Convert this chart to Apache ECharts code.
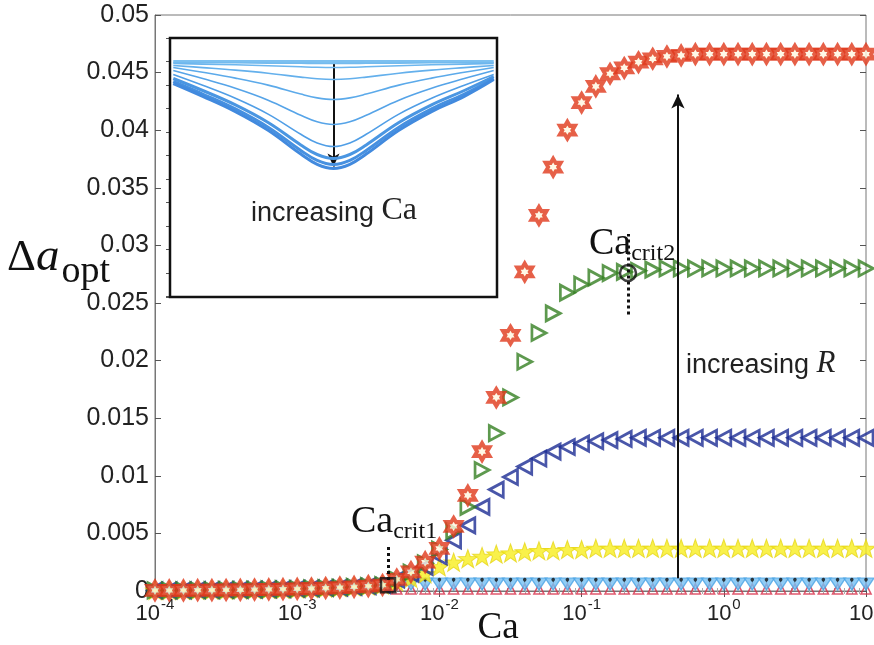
<!DOCTYPE html>
<html><head><meta charset="utf-8">
<script src="https://cdn.jsdelivr.net/npm/echarts@6/dist/echarts.min.js"></script>
<style>html,body{margin:0;padding:0;background:#fff}#c{width:874px;height:645px}</style>
</head><body><div id="c"></div>
<script>
// Capillary number grid (10 points per decade)
const ca = [1e-4,1.259e-4,1.585e-4,1.995e-4,2.512e-4,3.162e-4,3.981e-4,5.012e-4,6.31e-4,7.943e-4,
  1e-3,1.259e-3,1.585e-3,1.995e-3,2.512e-3,3.162e-3,3.981e-3,5.012e-3,6.31e-3,7.943e-3,
  1e-2,1.259e-2,1.585e-2,1.995e-2,2.512e-2,3.162e-2,3.981e-2,5.012e-2,6.31e-2,7.943e-2,
  0.1,0.1259,0.1585,0.1995,0.2512,0.3162,0.3981,0.5012,0.631,0.7943,
  1,1.259,1.585,1.995,2.512,3.162,3.981,5.012,6.31,7.943,10];

const redHex = [0.00005,0.00005,0.00006,0.00007,0.00008,0.00009,0.0001,0.00012,0.00014,0.00016,0.00019,0.00022,0.00026,0.0003,0.00036,0.00043,0.00052,
  0.001,0.00165,0.0025,0.0037,0.0056,0.0083,0.0121,0.0168,0.0222,0.0277,0.0326,0.0368,0.0400,0.0424,0.0438,0.0449,0.0454,0.0459,0.0462,0.0464,0.0465,
  0.0466,0.0466,0.0466,0.0466,0.0466,0.0466,0.0466,0.0466,0.0466,0.0466,0.0466,0.0466,0.0466];
const greenTri = [0.00005,0.00005,0.00006,0.00007,0.00008,0.00009,0.0001,0.00012,0.00014,0.00016,0.00019,0.00022,0.00026,0.0003,0.00036,0.00043,0.00052,
  0.001,0.0016,0.0024,0.0036,0.0052,0.0073,0.0105,0.0137,0.0168,0.0199,0.0224,0.0241,0.0259,0.0266,0.0272,0.0276,0.0277,0.0278,0.0279,
  0.028,0.028,0.028,0.028,0.028,0.028,0.028,0.028,0.028,0.028,0.028,0.028,0.028,0.028,0.028];
const blueTri = [0.00005,0.00005,0.00006,0.00007,0.00008,0.00009,0.0001,0.00012,0.00014,0.00016,0.00019,0.00022,0.00026,0.0003,0.00036,0.00043,0.00052,
  0.001,0.0015,0.0021,0.003,0.0044,0.0057,0.0073,0.0088,0.0099,0.0108,0.0115,0.0121,0.0125,0.0128,0.013,0.0131,0.0132,
  0.0133,0.0133,0.0133,0.0133,0.0133,0.0133,0.0133,0.0133,0.0133,0.0133,0.0133,0.0133,0.0133,0.0133,0.0133,0.0133,0.0133];
const yellowStar = [0.00005,0.00005,0.00006,0.00007,0.00008,0.00009,0.0001,0.00012,0.00014,0.00016,0.00019,0.00022,0.00026,0.0003,0.00036,0.00043,0.00052,
  0.0008,0.0011,0.0015,0.0021,0.0025,0.0028,0.003,0.0032,0.0033,0.0034,0.0035,0.0035,0.0036,0.0036,
  0.0037,0.0037,0.0037,0.0037,0.0037,0.0037,0.0037,0.0037,0.0037,0.0037,0.0037,0.0037,0.0037,0.0037,0.0037,0.0037,0.0037,0.0037,0.0037,0.0037];
const lightBlue = [0.00005,0.00005,0.00006,0.00007,0.00008,0.00009,0.0001,0.00012,0.00014,0.00016,0.00019,0.00022,0.00026,0.0003,0.00036,0.00043,0.00052,
  0.0006,0.0006,0.0006,0.0006,0.0006,0.0006,0.0006,0.0006,0.0006,0.0006,0.0006,0.0006,0.0006,0.0006,0.0006,0.0006,0.0006,
  0.0006,0.0006,0.0006,0.0006,0.0006,0.0006,0.0006,0.0006,0.0006,0.0006,0.0006,0.0006,0.0006,0.0006,0.0006,0.0006,0.0006];
const blackPin = [0.00005,0.00005,0.00006,0.00007,0.00008,0.00009,0.0001,0.00012,0.00014,0.00016,0.00019,0.00022,0.00026,0.0003,0.00036,0.00043,0.00052,
  0.0007,0.0007,0.0007,0.0007,0.0007,0.0007,0.0007,0.0007,0.0007,0.0007,0.0007,0.0007,0.0007,0.0007,0.0007,0.0007,0.0007,
  0.0007,0.0007,0.0007,0.0007,0.0007,0.0007,0.0007,0.0007,0.0007,0.0007,0.0007,0.0007,0.0007,0.0007,0.0007,0.0007,0.0007];
const redCaret = [0.00005,0.00005,0.00006,0.00007,0.00008,0.00009,0.0001,0.00012,0.00014,0.00016,0.00019,0.00022,0.00026,0.0003,0.00036,0.00043,0.00045,
  0.00018,0.00018,0.00018,0.00018,0.00018,0.00018,0.00018,0.00018,0.00018,0.00018,0.00018,0.00018,0.00018,0.00018,0.00018,0.00018,0.00018,
  0.00018,0.00018,0.00018,0.00018,0.00018,0.00018,0.00018,0.00018,0.00018,0.00018,0.00018,0.00018,0.00018,0.00018,0.00018,0.00018,0.00018];

// Critical points
const caCrit1 = [0.00435, 0.0005];
const caCrit2 = [0.212, 0.0276];
const crit1Line = [0.00095, 0.0040];
const crit2Line = [0.024, 0.031];
const arrowR = [0.476, 0.0011, 0.0431];

// Inset: interface profiles (depth units) sampled across the domain
const insetS = [0.01,0.1,0.2,0.3,0.4,0.45,0.5,0.55,0.6,0.7,0.8,0.9,0.99];
const insetCurves = [
  [0,0,0,0,0,0,0,0,0,0,0,0,0],
  [1,1.2,1.3,1.6,1.8,2,2,2,1.8,1.6,1.3,1.2,1],
  [2,2.6,3.3,4.2,5.3,5.8,6,5.8,5.3,4.2,3.3,2.6,2],
  [4,6.1,8.6,11.7,15.6,17.3,18,17.3,15.6,11.7,8.6,6.1,4],
  [6,10.8,16.6,23.6,32.6,36.4,38,36.4,32.6,23.6,16.6,10.8,6],
  [9,17.1,26.8,38.7,53.8,60.3,63,60.3,53.8,38.7,26.8,17.1,9],
  [13,23.8,36.8,52.6,72.8,81.4,85,81.4,72.8,52.6,36.8,23.8,13],
  [17,29,43.4,61,83.4,93,97,93,83.4,61,43.4,29,15],
  [20,32.5,47.4,65.7,88.9,98.9,103,98.9,88.9,65.7,47.4,32.5,17],
  [22,34.8,50.1,68.8,92.6,102.8,107,102.8,92.6,68.8,50.1,34.8,18]
];
const insetArrow = [0.5, 0, 105];

const hexPath = 'path://M0,-10 L2.887,-5 L8.66,-5 L5.774,0 L8.66,5 L2.887,5 L0,10 L-2.887,5 L-8.66,5 L-5.774,0 L-8.66,-5 L-2.887,-5 Z';
const starPath = 'path://M0,-10 L2.35,-3.24 L9.51,-3.09 L3.8,1.24 L5.88,8.09 L0,4 L-5.88,8.09 L-3.8,1.24 L-9.51,-3.09 L-2.35,-3.24 Z';
const pairs = arr => arr.map((v, i) => [ca[i], v]);

const chart = echarts.init(document.getElementById('c'), null, {renderer: 'canvas'});
const SANS = 'Liberation Sans, Arial, Helvetica, sans-serif';
const SERIF = 'Liberation Serif, DejaVu Serif, serif';
const insetCurveColors = ['#7cc0f0','#74bbee','#6cb6ee','#64b0ec','#5caaea','#56a4e8','#509ee6','#4a96e2','#4690e0','#428ade'];

const option = {
  animation: false,
  backgroundColor: '#fff',
  grid: [
    {left: 155, right: 8, top: 15, bottom: 54, show: true, borderColor: '#777', borderWidth: 1, z: 0, outerBoundsMode: 'none', containLabel: false},
    {left: 170, top: 38, width: 327, height: 259, show: true, borderColor: '#111', borderWidth: 2.5, backgroundColor: '#fff', z: 3, outerBoundsMode: 'none', containLabel: false}
  ],
  xAxis: [
    {type: 'log', logBase: 10, min: 1e-4, max: 10, gridIndex: 0, position: 'bottom',
     axisLine: {show: true, lineStyle: {color: '#777'}},
     axisTick: {show: true, inside: true, length: 6, lineStyle: {color: '#555'}},
     minorTick: {show: true, splitNumber: 9, length: 3, lineStyle: {color: '#aaa'}},
     splitLine: {show: false},
     axisLabel: {margin: 6, hideOverlap: false, formatter: v => '{b|10}{s|' + Math.round(Math.log10(v)) + '}',
       rich: {b: {fontSize: 22, fontFamily: SANS, color: '#222', verticalAlign: 'bottom'},
              s: {fontSize: 15, fontFamily: SANS, color: '#222', verticalAlign: 'bottom', padding: [0,0,13,1]}}}},
    {type: 'log', logBase: 10, min: 1e-4, max: 10, gridIndex: 0, position: 'top',
     axisLine: {show: false}, axisLabel: {show: false}, splitLine: {show: false},
     axisTick: {show: true, inside: true, length: 6, lineStyle: {color: '#555'}},
     minorTick: {show: true, splitNumber: 9, length: 3, lineStyle: {color: '#aaa'}}},
    {type: 'value', min: 0, max: 1, interval: 0.125, gridIndex: 1, position: 'bottom',
     axisLine: {show: false}, axisLabel: {show: false}, splitLine: {show: false},
     axisTick: {show: true, inside: true, length: 4, lineStyle: {color: '#555'}}},
    {type: 'value', min: 0, max: 1, interval: 0.125, gridIndex: 1, position: 'top',
     axisLine: {show: false}, axisLabel: {show: false}, splitLine: {show: false},
     axisTick: {show: true, inside: true, length: 4, lineStyle: {color: '#555'}}}
  ],
  yAxis: [
    {type: 'value', min: 0, max: 0.05, interval: 0.005, gridIndex: 0, position: 'left',
     axisLine: {show: true, lineStyle: {color: '#777'}},
     axisTick: {show: true, inside: true, length: 6, lineStyle: {color: '#555'}},
     splitLine: {show: false},
     axisLabel: {margin: 6, fontSize: 25, fontFamily: SANS, color: '#222', formatter: v => String(+v.toFixed(3))}},
    {type: 'value', min: 0, max: 0.05, interval: 0.005, gridIndex: 0, position: 'right',
     axisLine: {show: false}, axisLabel: {show: false}, splitLine: {show: false},
     axisTick: {show: true, inside: true, length: 6, lineStyle: {color: '#555'}}},
    {type: 'value', min: -23.5, max: 235.5, interval: 23.5, inverse: true, gridIndex: 1, position: 'left',
     axisLine: {show: false}, axisLabel: {show: false}, splitLine: {show: false},
     axisTick: {show: true, inside: true, length: 4, lineStyle: {color: '#555'}}},
    {type: 'value', min: -23.5, max: 235.5, interval: 23.5, inverse: true, gridIndex: 1, position: 'right',
     axisLine: {show: false}, axisLabel: {show: false}, splitLine: {show: false},
     axisTick: {show: true, inside: true, length: 4, lineStyle: {color: '#555'}}}
  ],
  series: [
    {type: 'scatter', xAxisIndex: 0, yAxisIndex: 0, data: pairs(redCaret), symbol: 'triangle', symbolSize: [10, 10],
     itemStyle: {color: 'rgba(0,0,0,0)', borderColor: '#d8304a', borderWidth: 1.6}, z: 2},
    {type: 'scatter', xAxisIndex: 0, yAxisIndex: 0, data: pairs(lightBlue), symbol: 'triangle', symbolRotate: 180, symbolSize: [16, 12],
     itemStyle: {color: '#74bff2', borderColor: '#4aa2e4', borderWidth: 1.2}, z: 2},
    {type: 'scatter', xAxisIndex: 0, yAxisIndex: 0, data: pairs(blackPin), symbol: 'pin', symbolSize: 6,
     itemStyle: {color: '#111'}, z: 2},
    {type: 'scatter', xAxisIndex: 0, yAxisIndex: 0, data: pairs(yellowStar), symbol: starPath, symbolSize: [19, 18],
     itemStyle: {color: '#f8ee1e', borderColor: '#e6d61a', borderWidth: 1}, z: 2},
    {type: 'scatter', xAxisIndex: 0, yAxisIndex: 0, data: pairs(blueTri), symbol: 'triangle', symbolRotate: 90, symbolSize: [15, 14],
     itemStyle: {color: 'rgba(255,255,255,0)', borderColor: '#1c2c94', borderWidth: 2.8}, z: 2},
    {type: 'scatter', xAxisIndex: 0, yAxisIndex: 0, data: pairs(greenTri), symbol: 'triangle', symbolRotate: -90, symbolSize: [15, 14],
     itemStyle: {color: 'rgba(255,255,255,0)', borderColor: '#347f22', borderWidth: 2.8}, z: 2},
    {type: 'scatter', xAxisIndex: 0, yAxisIndex: 0, data: pairs(redHex), symbol: hexPath, symbolSize: [15, 17],
     itemStyle: {color: '#fff6e0', borderColor: '#e0381c', borderWidth: 4}, z: 2},
    // critical points and annotations
    {type: 'scatter', xAxisIndex: 0, yAxisIndex: 0, data: [caCrit1], symbol: 'rect', symbolSize: 14,
     itemStyle: {color: 'rgba(0,0,0,0)', borderColor: '#111', borderWidth: 2.5}, z: 4,
     markLine: {silent: true, symbol: ['none','none'], label: {show: false},
       lineStyle: {color: '#111', width: 3, type: [3, 3]},
       data: [[{coord: [caCrit1[0], crit1Line[0]]}, {coord: [caCrit1[0], crit1Line[1]]}]]}},
    {type: 'scatter', xAxisIndex: 0, yAxisIndex: 0, data: [caCrit2], symbol: 'circle', symbolSize: 16,
     itemStyle: {color: 'rgba(0,0,0,0)', borderColor: '#111', borderWidth: 2.5}, z: 4,
     markLine: {silent: true, symbol: ['none','none'], label: {show: false},
       lineStyle: {color: '#111', width: 3, type: [3, 3]},
       data: [[{coord: [caCrit2[0], crit2Line[0]]}, {coord: [caCrit2[0], crit2Line[1]]}]]}},
    {type: 'line', xAxisIndex: 0, yAxisIndex: 0, data: [], z: 4,
     markLine: {silent: true, symbol: ['none','arrow'], symbolSize: [10, 14], label: {show: false},
       lineStyle: {color: '#111', width: 2, type: 'solid'},
       data: [[{coord: [arrowR[0], arrowR[1]]}, {coord: [arrowR[0], arrowR[2]]}]]}},
    // inset curves
    ...insetCurves.map((c, k) => ({
      type: 'line', xAxisIndex: 2, yAxisIndex: 2, data: c.map((v, i) => [insetS[i], v]),
      smooth: 0.4, showSymbol: false, symbol: 'none', z: 5,
      lineStyle: {color: insetCurveColors[k], width: k >= 7 ? 3 : (k === 0 ? 3 : 1.6)}
    })),
    {type: 'line', xAxisIndex: 2, yAxisIndex: 2, data: [], z: 6,
     markLine: {silent: true, symbol: ['none','arrow'], symbolSize: [9, 13], label: {show: false},
       lineStyle: {color: '#111', width: 2, type: 'solid'},
       data: [[{coord: [insetArrow[0], insetArrow[1]]}, {coord: [insetArrow[0], insetArrow[2]]}]]}}
  ],
  graphic: [
    {type: 'text', left: 7, top: 234, z: 10, style: {
      text: '{d|Δ}{a|a}{s|opt}', rich: {
        d: {fontFamily: SERIF, fontSize: 45, fill: '#111', verticalAlign: 'bottom', padding: [0,0,10,0]},
        a: {fontFamily: SERIF, fontStyle: 'italic', fontSize: 47, fill: '#111', verticalAlign: 'bottom', padding: [0,2,10,0]},
        s: {fontFamily: SERIF, fontSize: 38, fill: '#111', verticalAlign: 'bottom'}}}},
    {type: 'text', x: 498, y: 628, z: 10, style: {text: 'Ca', font: '37px ' + SERIF, fill: '#111', align: 'center', verticalAlign: 'middle'}},
    {type: 'text', x: 351, y: 503, z: 10, style: {
      text: '{c|Ca}{s|crit1}', rich: {
        c: {fontFamily: SERIF, fontSize: 38, fill: '#111', verticalAlign: 'bottom', padding: [0,0,3,0]},
        s: {fontFamily: SERIF, fontSize: 24, fill: '#111', verticalAlign: 'bottom'}}}},
    {type: 'text', x: 589, y: 225, z: 10, style: {
      text: '{c|Ca}{s|crit2}', rich: {
        c: {fontFamily: SERIF, fontSize: 38, fill: '#111', verticalAlign: 'bottom', padding: [0,0,3,0]},
        s: {fontFamily: SERIF, fontSize: 24, fill: '#111', verticalAlign: 'bottom'}}}},
    {type: 'text', x: 686, y: 348, z: 10, style: {
      text: '{t|increasing }{r|R}', rich: {
        t: {fontFamily: SANS, fontSize: 27, fill: '#222', verticalAlign: 'bottom'},
        r: {fontFamily: SERIF, fontStyle: 'italic', fontSize: 31, fill: '#222', verticalAlign: 'bottom'}}}},
    {type: 'text', x: 334, y: 211, z: 10, style: {
      text: '{t|increasing }{c|Ca}', align: 'center', verticalAlign: 'middle', rich: {
        t: {fontFamily: SANS, fontSize: 27, fill: '#222', verticalAlign: 'bottom'},
        c: {fontFamily: SERIF, fontSize: 32, fill: '#222', verticalAlign: 'bottom'}}}}
  ]
};
chart.setOption(option);
</script>
</body></html>
